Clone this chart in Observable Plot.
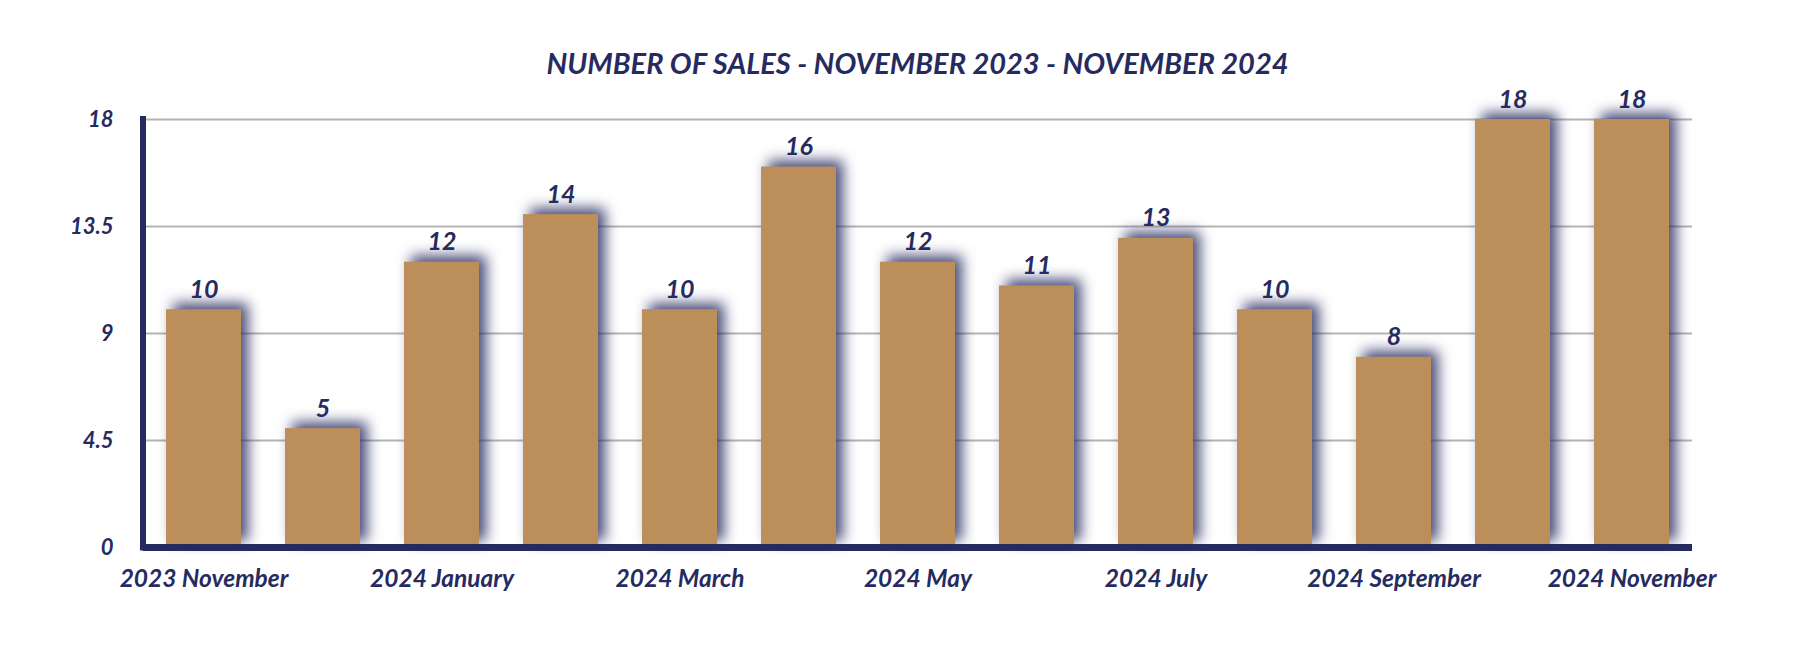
<!DOCTYPE html>
<html>
<head>
<meta charset="utf-8">
<script src="https://cdn.jsdelivr.net/npm/d3@7"></script>
<script src="https://cdn.jsdelivr.net/npm/@observablehq/plot@0.6"></script>
<style>
  html, body { margin: 0; padding: 0; background: #ffffff; }
  body { width: 1794px; height: 652px; overflow: hidden; font-family: Lato, "Open Sans", sans-serif; }
  #title {
    box-sizing: border-box;
    height: 80px;
    padding-top: 48px;
    margin-left: 143px;
    width: 1549px;
    text-align: center;
    font-size: 29px;
    line-height: 30px;
    font-weight: 700;
    font-style: italic;
    color: #262b5f;
  }
</style>
</head>
<body>
<div id="title"></div>
<div id="chart"></div>
<script>
const titleText = "NUMBER OF SALES - NOVEMBER 2023 - NOVEMBER 2024";
const months = [
  "2023 November", "2023 December", "2024 January", "2024 February",
  "2024 March", "2024 April", "2024 May", "2024 June", "2024 July",
  "2024 August", "2024 September", "2024 October", "2024 November"
];
const sales = [10, 5, 12, 14, 10, 16, 12, 11, 13, 10, 8, 18, 18];
const yTicks = [0, 4.5, 9, 13.5, 18];
const xTickLabels = ["2023 November", "2024 January", "2024 March", "2024 May", "2024 July", "2024 September", "2024 November"];

const navy = "#262b5f";
const tan = "#bc8f5a";
const grid = "#b4b4b4";

const data = months.map((m, i) => ({month: m, value: sales[i]}));

document.getElementById("title").textContent = titleText;

const plot = Plot.plot({
  width: 1794,
  height: 572,
  marginTop: 39,
  marginBottom: 105,
  marginLeft: 143,
  marginRight: 102,
  style: {fontFamily: "Lato, 'Open Sans', sans-serif", fontStyle: "italic", fontWeight: 700, color: navy, background: "#ffffff", overflow: "visible"},
  x: {domain: months, paddingInner: 0.37, paddingOuter: 0.185, label: null},
  y: {domain: [0, 18], label: null},
  marks: [
    Plot.gridY(yTicks, {stroke: grid, strokeOpacity: 1, strokeWidth: 2}),
    Plot.axisY({ticks: yTicks, tickSize: 0, tickPadding: 30, fontSize: 22, label: null, tickFormat: d => String(d)}),
    Plot.axisX({ticks: xTickLabels, tickSize: 0, tickPadding: 22, fontSize: 24.5, label: null}),
    Plot.barY(data, {x: "month", y: "value", fill: tan}),
    Plot.ruleY([0], {stroke: navy, strokeWidth: 7}),
    Plot.text(data, {x: "month", y: "value", text: d => String(d.value), dy: -20, fill: navy, fontSize: 25, fontWeight: 700, fontStyle: "italic"})
  ]
});

document.getElementById("chart").appendChild(plot);

// soft drop shadow on bars
d3.select(plot).selectAll('g[aria-label="bar"]').style("filter", "drop-shadow(7px -6px 7px rgba(38,43,95,0.85))");

// vertical axis line along the left edge of the frame, using Plot's scales
const xs = plot.scale("x");
const ys = plot.scale("y");
const yScale = d3.scaleLinear(ys.domain, ys.range);
d3.select(plot).append("line")
  .attr("x1", xs.range[0]).attr("x2", xs.range[0])
  .attr("y1", yScale(18) - 3).attr("y2", yScale(0) + 3.5)
  .attr("stroke", navy).attr("stroke-width", 6);
</script>
</body>
</html>
